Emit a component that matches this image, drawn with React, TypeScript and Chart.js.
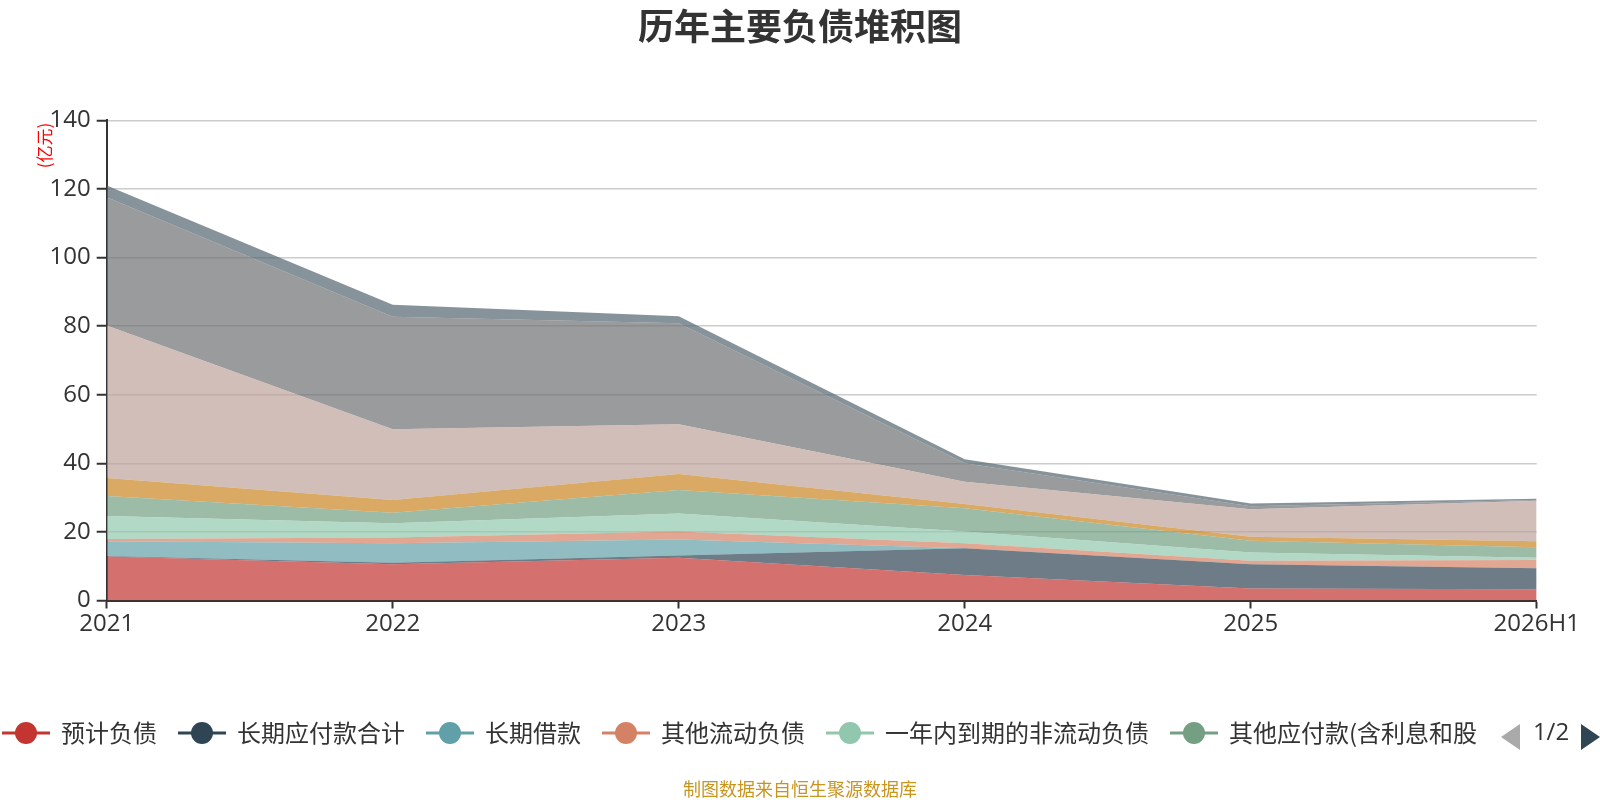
import React, { useEffect, useRef } from "react";
import { Chart, registerables } from "chart.js";

Chart.register(...registerables);

// ---- data ----
const categories = ["2021", "2022", "2023", "2024", "2025", "2026H1"];
const seriesNames = [
  "预计负债",
  "长期应付款合计",
  "长期借款",
  "其他流动负债",
  "一年内到期的非流动负债",
  "其他应付款(含利息和股利)",
  "应付职工薪酬",
  "应付票据及应付账款",
  "短期借款",
  "合同负债",
];
const provisions = [12.8, 10.6, 12.5, 7.4, 3.5, 3.3];
const longTermPayables = [0.2, 0.4, 0.6, 7.8, 7.1, 6.1];
const longTermLoans = [4.3, 5.7, 4.7, 0, 0, 0];
const otherCurrentLiabilities = [0.6, 1.7, 2.3, 1.5, 1.0, 2.4];
const currentPortionNonCurrent = [6.7, 4.1, 5.3, 3.4, 2.4, 0.7];
const otherPayables = [5.9, 3.1, 6.8, 6.8, 3.4, 3.0];
const employeePayables = [5.2, 3.7, 4.7, 1.2, 1.2, 1.8];
const notesAccountsPayable = [44.5, 20.6, 14.5, 6.5, 8.0, 11.8];
const shortTermLoans = [37.4, 32.8, 29.4, 5.4, 0.9, 0.2];
const contractLiabilities = [3.4, 3.5, 2.1, 1.2, 0.8, 0.4];
const seriesValues = [
  provisions,
  longTermPayables,
  longTermLoans,
  otherCurrentLiabilities,
  currentPortionNonCurrent,
  otherPayables,
  employeePayables,
  notesAccountsPayable,
  shortTermLoans,
  contractLiabilities,
];
const yTicks = [0, 20, 40, 60, 80, 100, 120, 140];

const titleText = "历年主要负债堆积图";
const unitText = "(亿元)";
const footerText = "制图数据来自恒生聚源数据库";
const pageText = "1/2";

const palette = [
  "#c23531",
  "#2f4554",
  "#61a0a8",
  "#d48265",
  "#91c7ae",
  "#749f83",
  "#ca8622",
  "#bda29a",
  "#6e7074",
  "#546570",
];

function hexToRgba(hex: string, a: number) {
  const r = parseInt(hex.slice(1, 3), 16);
  const g = parseInt(hex.slice(3, 5), 16);
  const b = parseInt(hex.slice(5, 7), 16);
  return `rgba(${r},${g},${b},${a})`;
}

const CJK = '"Noto Sans CJK SC", "Noto Sans", sans-serif';
const NUM = '"Open Sans", "Noto Sans", sans-serif';

function fitText(ctx: CanvasRenderingContext2D, text: string, maxW: number) {
  if (ctx.measureText(text).width <= maxW) return text;
  let s = text;
  while (s.length > 0 && ctx.measureText(s).width > maxW) s = s.slice(0, -1);
  return s;
}

const overlayPlugin = {
  id: "overlay",
  afterDraw(chart: any) {
    const ctx: CanvasRenderingContext2D = chart.ctx;
    ctx.save();
    // title
    ctx.font = `bold 36px ${CJK}`;
    ctx.fillStyle = "#333";
    ctx.textAlign = "center";
    ctx.textBaseline = "middle";
    ctx.fillText(titleText, 800, 26);

    // unit label
    ctx.save();
    ctx.translate(45, 145.5);
    ctx.rotate(-Math.PI / 2);
    ctx.font = `17px ${CJK}`;
    ctx.fillStyle = "#ff0000";
    ctx.textAlign = "center";
    ctx.textBaseline = "middle";
    ctx.fillText(unitText, 0, 0);
    ctx.restore();

    // legend (page 1)
    const ly = 733;
    let x = 2;
    ctx.font = `24px ${CJK}`;
    ctx.textAlign = "left";
    ctx.textBaseline = "middle";
    for (let i = 0; i < 6; i++) {
      const c = palette[i];
      ctx.strokeStyle = c;
      ctx.lineWidth = 3;
      ctx.beginPath();
      ctx.moveTo(x, ly);
      ctx.lineTo(x + 48, ly);
      ctx.stroke();
      ctx.fillStyle = c;
      ctx.beginPath();
      ctx.arc(x + 24, ly, 11, 0, Math.PI * 2);
      ctx.fill();
      ctx.fillStyle = "#333";
      const tx = x + 59;
      const shown = fitText(ctx, seriesNames[i], 1486 - tx);
      const w = ctx.measureText(shown).width;
      ctx.fillText(shown, tx, ly);
      x = tx + w + 21;
    }

    // pager
    ctx.fillStyle = "#aaaaaa";
    ctx.beginPath();
    ctx.moveTo(1501, 737);
    ctx.lineTo(1520, 724);
    ctx.lineTo(1520, 750);
    ctx.closePath();
    ctx.fill();
    ctx.fillStyle = "#2f4554";
    ctx.beginPath();
    ctx.moveTo(1600, 737);
    ctx.lineTo(1581, 724);
    ctx.lineTo(1581, 750);
    ctx.closePath();
    ctx.fill();
    ctx.fillStyle = "#333";
    ctx.font = `24px ${NUM}`;
    ctx.textAlign = "center";
    ctx.fillText(pageText, 1551, 733);

    // footer
    ctx.font = `18px ${CJK}`;
    ctx.fillStyle = "#c8951f";
    ctx.textAlign = "center";
    ctx.fillText(footerText, 800, 789);
    ctx.restore();
  },
};

export default function App() {
  const ref = useRef<HTMLCanvasElement | null>(null);

  useEffect(() => {
    document.body.style.margin = "0";
    const canvas = ref.current;
    if (!canvas) return;
    const datasets = seriesValues.map((vals, i) => ({
      label: seriesNames[i],
      data: vals,
      backgroundColor: hexToRgba(palette[i], 0.7),
      borderColor: hexToRgba(palette[i], 0.7),
      borderWidth: 0,
      pointRadius: 0,
      pointHoverRadius: 0,
      tension: 0,
      fill: i === 0 ? "origin" : "-1",
    }));
    const chart = new Chart(canvas, {
      type: "line",
      data: { labels: categories, datasets },
      options: {
        responsive: false,
        animation: false,
        devicePixelRatio: 1,
        layout: { padding: { left: 0, right: 63.3, top: 120.3, bottom: 159.5 } },
        plugins: {
          legend: { display: false },
          title: { display: false },
          tooltip: { enabled: false },
        },
        scales: {
          x: {
            type: "category",
            offset: false,
            grid: {
              drawOnChartArea: false,
              drawTicks: true,
              tickLength: 8,
              tickColor: "#333",
              tickWidth: 2,
            },
            border: { display: true, color: "#333", width: 2 },
            ticks: {
              color: "#333",
              font: { family: NUM, size: 24 },
              padding: 1,
              maxRotation: 0,
              autoSkip: false,
            },
            afterFit(scale: any) {
              scale.height = 40;
            },
          },
          y: {
            stacked: true,
            min: 0,
            max: 140,
            afterBuildTicks(scale: any) {
              scale.ticks = yTicks.map((v) => ({ value: v }));
            },
            grid: {
              color: "#cccccc",
              lineWidth: 1.5,
              drawTicks: true,
              tickLength: 10,
              tickColor: "#333",
              tickWidth: 2,
            },
            border: { display: true, color: "#333", width: 2 },
            ticks: {
              color: "#333",
              font: { family: NUM, size: 24 },
              padding: 6,
            },
            afterFit(scale: any) {
              scale.width = 106.7;
            },
          },
        },
      },
      plugins: [overlayPlugin],
    } as any);
    return () => chart.destroy();
  }, []);

  return (
    <div style={{ width: 1600, height: 800, position: "relative" }}>
      <canvas ref={ref} width={1600} height={800} style={{ display: "block" }} />
    </div>
  );
}
